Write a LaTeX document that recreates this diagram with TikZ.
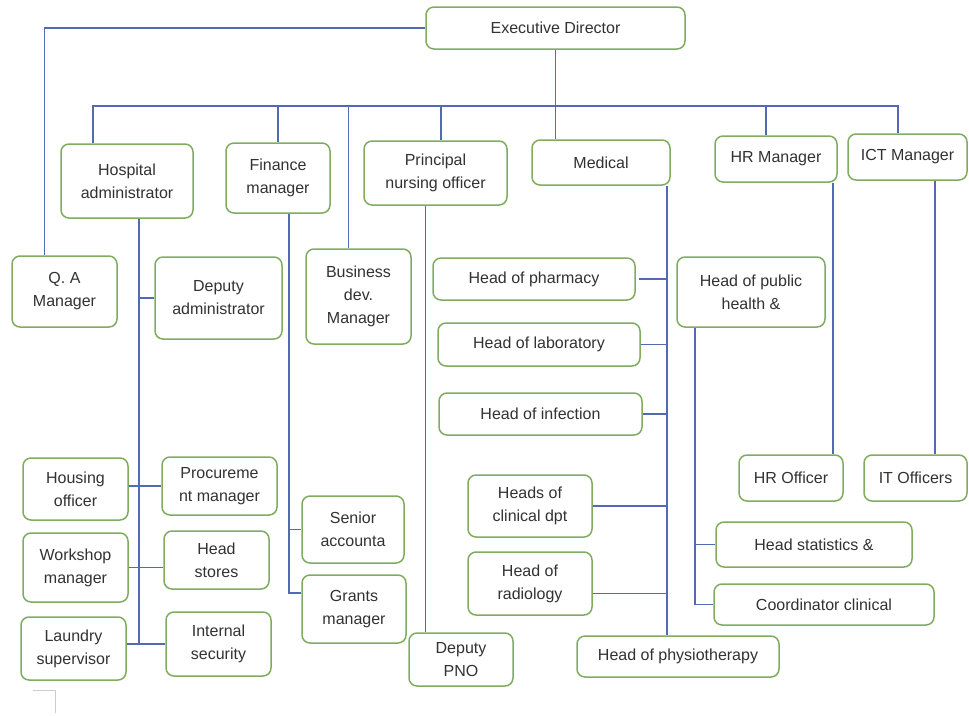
\documentclass[tikz,border=0pt]{standalone}
\usepackage{fontspec}
\setmainfont{Liberation Sans}
\definecolor{boxgreen}{RGB}{128,172,96}
\definecolor{linkblue}{RGB}{82,106,178}
\definecolor{textgray}{RGB}{50,50,50}
\begin{document}
\begin{tikzpicture}[x=1pt, y=-1pt,
    box/.style={draw=boxgreen, line width=1.5pt, rounded corners=8pt, fill=white,
        align=center, text=textgray, font=\fontsize{16}{23}\selectfont, inner sep=2pt},
    link/.style={draw=linkblue, line width=1.9pt}]
    \useasboundingbox (0,0) rectangle (969,715);
    % Top level
    \node [box, minimum width=259, minimum height=42] (exec) at (555.5,28) {Executive Director};
    % Managers
    \node [box, minimum width=132, minimum height=74] (hosp) at (127,181) {Hospital\\administrator};
    \node [box, minimum width=104, minimum height=70] (fin) at (278,178) {Finance\\manager};
    \node [box, minimum width=143, minimum height=64] (pno) at (435.5,173) {Principal\\nursing officer};
    \node [box, minimum width=138, minimum height=45] (med) at (601,162.5) {Medical};
    \node [box, minimum width=122, minimum height=46] (hr) at (776,159) {HR Manager};
    \node [box, minimum width=119, minimum height=46] (ict) at (907.5,157) {ICT Manager};
    \node [box, minimum width=105, minimum height=71] (qa) at (64.5,291.5) {Q. A\\Manager};
    \node [box, minimum width=105, minimum height=95] (busdev) at (358.5,296.5) {Business\\dev.\\Manager};
    % Administration
    \node [box, minimum width=127, minimum height=82] (depadm) at (218.5,298) {Deputy\\administrator};
    \node [box, minimum width=105, minimum height=62] (housing) at (75.5,489) {Housing\\officer};
    \node [box, minimum width=115, minimum height=58] (procure) at (219.5,486) {Procureme\\nt manager};
    \node [box, minimum width=105, minimum height=69] (workshop) at (75.5,567.5) {Workshop\\manager};
    \node [box, minimum width=105, minimum height=58] (stores) at (216.5,560) {Head\\stores};
    \node [box, minimum width=105, minimum height=63] (laundry) at (73.5,648.5) {Laundry\\supervisor};
    \node [box, minimum width=105, minimum height=64] (security) at (218.5,644) {Internal\\security};
    % Finance
    \node [box, minimum width=102, minimum height=67] (senior) at (353,529.5) {Senior\\accounta};
    \node [box, minimum width=104, minimum height=68] (grants) at (354,609) {Grants\\manager};
    % Nursing
    \node [box, minimum width=104, minimum height=53] (dpno) at (461,659.5) {Deputy\\PNO};
    % Medical
    \node [box, minimum width=202, minimum height=42] (pharm) at (534,279) {Head of pharmacy};
    \node [box, minimum width=202, minimum height=43] (lab) at (539,344.5) {Head of laboratory};
    \node [box, minimum width=203, minimum height=42] (infec) at (540.5,414) {Head of infection};
    \node [box, minimum width=124, minimum height=62] (clin) at (530,506) {Heads of\\clinical dpt};
    \node [box, minimum width=124, minimum height=63] (rad) at (530,583.5) {Head of\\radiology};
    \node [box, minimum width=202, minimum height=41] (physio) at (678,656.5) {Head of physiotherapy};
    \node [box, minimum width=148, minimum height=70] (pubh) at (751,292) {Head of public\\health \&};
    \node [box, minimum width=196, minimum height=45] (stat) at (814,544.5) {Head statistics \&};
    \node [box, minimum width=220, minimum height=41] (coord) at (824,604.5) {Coordinator clinical};
    % HR and ICT
    \node [box, minimum width=104, minimum height=46] (hroff) at (791,478) {HR Officer};
    \node [box, minimum width=103, minimum height=46] (itoff) at (915.5,478) {IT Officers};

    % Connectors from the director
    \draw [link] (exec.west) -| ([xshift=-20pt]qa.north);
    \coordinate (busL) at (93,106);
    \coordinate (busR) at (898,106);
    \draw [link] (busL |- hosp.north) -- (busL) -- (busR) -- (busR |- ict.north);
    \draw [link] (exec.south) -- (exec.south |- med.north);
    \draw [link] (fin.north) -- (fin.north |- busL);
    \draw [link] ([xshift=-10pt]busdev.north) -- ([xshift=-10pt]busdev.north |- busL);
    \draw [link] ([xshift=5.5pt]pno.north) -- ([xshift=5.5pt]pno.north |- busL);
    \draw [link] ([xshift=-10pt]hr.north) -- ([xshift=-10pt]hr.north |- busL);

    % Administration spine
    \coordinate (hspine) at ([xshift=12pt]hosp.south);
    \draw [link] (hspine) -- (hspine |- security.west);
    \draw [link] (hspine |- depadm.west) -- (depadm.west);
    \draw [link] (procure.west -| housing.east) -- (procure.west);
    \draw [link] (workshop.east) -- (stores.west |- workshop.east);
    \draw [link] (laundry.east |- security.west) -- (security.west);

    % Finance spine
    \coordinate (fspine) at ([xshift=11pt]fin.south);
    \draw [link] (fspine) |- ([yshift=16pt]grants.west);
    \draw [link] (fspine |- senior.west) -- (senior.west);

    % Nursing
    \draw [link] ([xshift=-10pt]pno.south) -- ([xshift=-10pt]pno.south |- dpno.north);

    % Medical spine
    \coordinate (mspine) at ([xshift=66pt]med.south);
    \draw [link] (mspine) -- (mspine |- physio.north);
    \draw [link] ([xshift=3pt]pharm.east) -- (pharm.east -| mspine);
    \draw [link] (lab.east) -- (lab.east -| mspine);
    \draw [link] (infec.east) -- (infec.east -| mspine);
    \draw [link] (clin.east) -- (clin.east -| mspine);
    \draw [link] ([yshift=-10pt]rad.east) -- ([yshift=-10pt]rad.east -| mspine);

    % Public health spine
    \coordinate (pspine) at ([xshift=-56pt]pubh.south);
    \draw [link] (pspine) |- (coord.west);
    \draw [link] (stat.west -| pspine) -- (stat.west);

    % HR and ICT
    \draw [link] ([xshift=57pt]hr.south) -- ([xshift=57pt]hr.south |- hroff.north);
    \draw [link] ([xshift=27.5pt]ict.south) -- ([xshift=27.5pt]ict.south |- itoff.north);

    % corner mark
    \draw [black!20, line width=1pt] (33,690) -- (55,690) -- (55,713);
\end{tikzpicture}
\end{document}
